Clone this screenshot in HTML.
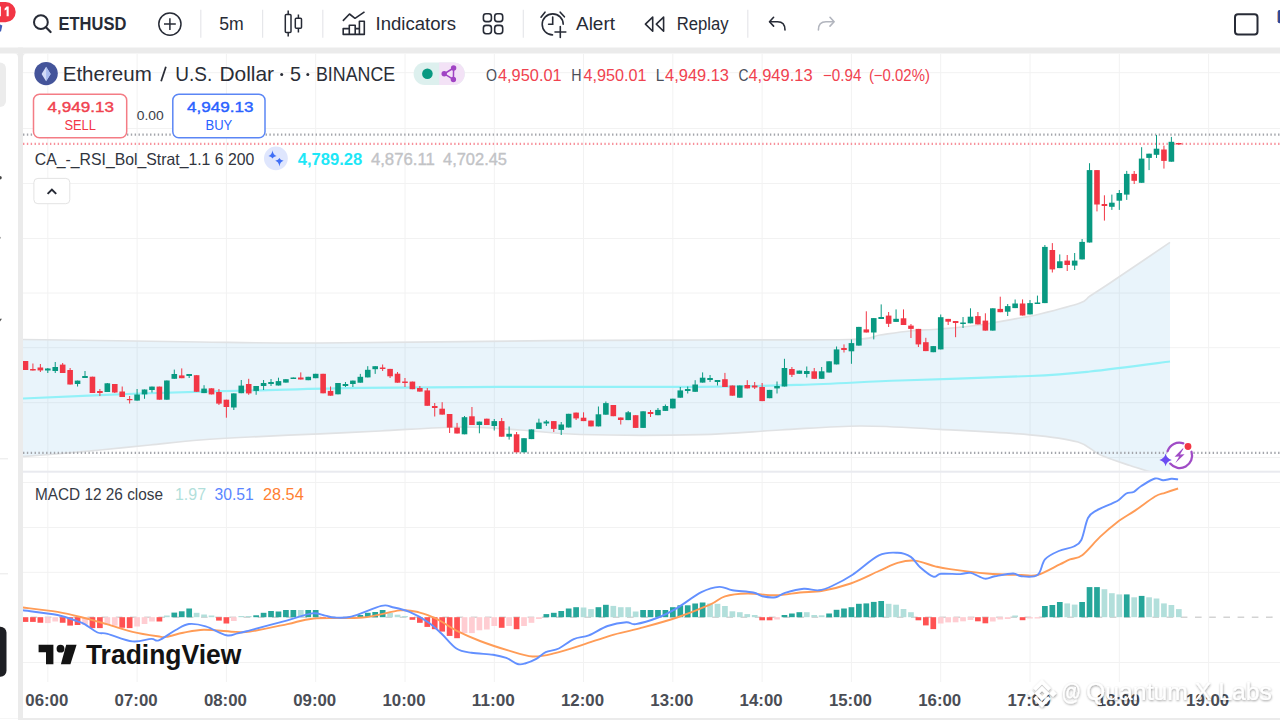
<!DOCTYPE html>
<html><head><meta charset="utf-8"><style>
html,body{margin:0;padding:0;width:1280px;height:720px;overflow:hidden;background:#fff}
text{font-family:"Liberation Sans", sans-serif}
</style></head><body>
<svg width="1280" height="720" viewBox="0 0 1280 720" style="display:block"><rect x="0" y="0" width="1280" height="720" fill="#ffffff"/><rect x="0" y="47.5" width="1280" height="6" fill="#ebebeb"/><rect x="18" y="47.5" width="5" height="672.5" fill="#ebebeb"/><rect x="18" y="718" width="1262" height="2" fill="#ebebeb"/><rect x="0" y="718" width="18" height="1" fill="#f6f6f6"/><path d="M0,53.5 H14 Q18,53.5 18,57.5 V53.5 Z" fill="#ebebeb"/><path d="M23,57.5 Q23,53.5 27,53.5 H23 Z" fill="#ebebeb"/><line x1="47.8" y1="54" x2="47.8" y2="682" stroke="#f2f2f2" stroke-width="1"/><line x1="137.1" y1="54" x2="137.1" y2="682" stroke="#f2f2f2" stroke-width="1"/><line x1="226.4" y1="54" x2="226.4" y2="682" stroke="#f2f2f2" stroke-width="1"/><line x1="315.7" y1="54" x2="315.7" y2="682" stroke="#f2f2f2" stroke-width="1"/><line x1="405.0" y1="54" x2="405.0" y2="682" stroke="#f2f2f2" stroke-width="1"/><line x1="494.3" y1="54" x2="494.3" y2="682" stroke="#f2f2f2" stroke-width="1"/><line x1="583.5" y1="54" x2="583.5" y2="682" stroke="#f2f2f2" stroke-width="1"/><line x1="672.8" y1="54" x2="672.8" y2="682" stroke="#f2f2f2" stroke-width="1"/><line x1="762.1" y1="54" x2="762.1" y2="682" stroke="#f2f2f2" stroke-width="1"/><line x1="851.4" y1="54" x2="851.4" y2="682" stroke="#f2f2f2" stroke-width="1"/><line x1="940.7" y1="54" x2="940.7" y2="682" stroke="#f2f2f2" stroke-width="1"/><line x1="1030.0" y1="54" x2="1030.0" y2="682" stroke="#f2f2f2" stroke-width="1"/><line x1="1119.3" y1="54" x2="1119.3" y2="682" stroke="#f2f2f2" stroke-width="1"/><line x1="1208.6" y1="54" x2="1208.6" y2="682" stroke="#f2f2f2" stroke-width="1"/><line x1="23" y1="72.7" x2="1280" y2="72.7" stroke="#f2f2f2" stroke-width="1"/><line x1="23" y1="128.5" x2="1280" y2="128.5" stroke="#f2f2f2" stroke-width="1"/><line x1="23" y1="183.5" x2="1280" y2="183.5" stroke="#f2f2f2" stroke-width="1"/><line x1="23" y1="238.5" x2="1280" y2="238.5" stroke="#f2f2f2" stroke-width="1"/><line x1="23" y1="293" x2="1280" y2="293" stroke="#f2f2f2" stroke-width="1"/><line x1="23" y1="347.7" x2="1280" y2="347.7" stroke="#f2f2f2" stroke-width="1"/><line x1="23" y1="402.7" x2="1280" y2="402.7" stroke="#f2f2f2" stroke-width="1"/><line x1="23" y1="457.5" x2="1280" y2="457.5" stroke="#f2f2f2" stroke-width="1"/><line x1="23" y1="482.5" x2="1280" y2="482.5" stroke="#f2f2f2" stroke-width="1"/><line x1="23" y1="527.5" x2="1280" y2="527.5" stroke="#f2f2f2" stroke-width="1"/><line x1="23" y1="572.3" x2="1280" y2="572.3" stroke="#f2f2f2" stroke-width="1"/><line x1="23" y1="662.5" x2="1280" y2="662.5" stroke="#f2f2f2" stroke-width="1"/><defs><clipPath id="pane"><rect x="23" y="54" width="1257" height="417"/></clipPath><clipPath id="macd"><rect x="23" y="473" width="1257" height="209"/></clipPath></defs><g clip-path="url(#pane)"><path d="M23.0,339.5 C35.8,339.7 70.5,340.1 100.0,340.5 C129.5,340.9 163.3,341.6 200.0,342.0 C236.7,342.4 261.7,343.2 320.0,343.0 C378.3,342.8 486.7,341.1 550.0,340.6 C613.3,340.1 650.0,340.2 700.0,340.0 C750.0,339.8 820.0,340.3 850.0,339.5 C880.0,338.7 870.0,336.4 880.0,335.0 C890.0,333.6 900.0,332.0 910.0,331.0 C920.0,330.0 928.3,330.0 940.0,329.0 C951.7,328.0 966.7,326.8 980.0,325.0 C993.3,323.2 1010.0,319.8 1020.0,318.0 C1030.0,316.2 1030.0,316.5 1040.0,314.0 C1050.0,311.5 1071.7,306.0 1080.0,303.0 C1088.3,300.0 1085.0,299.3 1090.0,296.0 C1095.0,292.7 1096.7,291.9 1110.0,283.0 C1123.3,274.1 1160.0,249.2 1170.0,242.4 L1170.0,478.0 C1163.3,475.9 1141.7,469.4 1130.0,465.5 C1118.3,461.6 1108.7,458.6 1100.0,454.7 C1091.3,450.8 1089.7,445.3 1078.0,442.0 C1066.3,438.7 1053.0,436.9 1030.0,434.8 C1007.0,432.7 968.3,430.9 940.0,429.4 C911.7,427.9 886.7,425.9 860.0,426.0 C833.3,426.1 806.7,428.6 780.0,430.0 C753.3,431.4 733.3,433.9 700.0,434.6 C666.7,435.4 610.0,435.3 580.0,434.5 C550.0,433.7 540.0,431.2 520.0,430.0 C500.0,428.8 483.3,426.8 460.0,427.0 C436.7,427.2 403.3,429.9 380.0,431.0 C356.7,432.1 341.7,432.8 320.0,433.8 C298.3,434.8 270.0,436.0 250.0,437.0 C230.0,438.0 216.7,438.7 200.0,440.0 C183.3,441.3 166.7,443.3 150.0,445.0 C133.3,446.7 116.7,448.4 100.0,450.0 C83.3,451.6 62.8,453.4 50.0,454.5 C37.2,455.6 27.5,456.0 23.0,456.3 Z" fill="rgb(35,145,215)" fill-opacity="0.1"/><path d="M23.0,339.5 C35.8,339.7 70.5,340.1 100.0,340.5 C129.5,340.9 163.3,341.6 200.0,342.0 C236.7,342.4 261.7,343.2 320.0,343.0 C378.3,342.8 486.7,341.1 550.0,340.6 C613.3,340.1 650.0,340.2 700.0,340.0 C750.0,339.8 820.0,340.3 850.0,339.5 C880.0,338.7 870.0,336.4 880.0,335.0 C890.0,333.6 900.0,332.0 910.0,331.0 C920.0,330.0 928.3,330.0 940.0,329.0 C951.7,328.0 966.7,326.8 980.0,325.0 C993.3,323.2 1010.0,319.8 1020.0,318.0 C1030.0,316.2 1030.0,316.5 1040.0,314.0 C1050.0,311.5 1071.7,306.0 1080.0,303.0 C1088.3,300.0 1085.0,299.3 1090.0,296.0 C1095.0,292.7 1096.7,291.9 1110.0,283.0 C1123.3,274.1 1160.0,249.2 1170.0,242.4" fill="none" stroke="#e0e2e4" stroke-width="1.7"/><path d="M23.0,456.3 C27.5,456.0 37.2,455.6 50.0,454.5 C62.8,453.4 83.3,451.6 100.0,450.0 C116.7,448.4 133.3,446.7 150.0,445.0 C166.7,443.3 183.3,441.3 200.0,440.0 C216.7,438.7 230.0,438.0 250.0,437.0 C270.0,436.0 298.3,434.8 320.0,433.8 C341.7,432.8 356.7,432.1 380.0,431.0 C403.3,429.9 436.7,427.2 460.0,427.0 C483.3,426.8 500.0,428.8 520.0,430.0 C540.0,431.2 550.0,433.7 580.0,434.5 C610.0,435.3 666.7,435.4 700.0,434.6 C733.3,433.9 753.3,431.4 780.0,430.0 C806.7,428.6 833.3,426.1 860.0,426.0 C886.7,425.9 911.7,427.9 940.0,429.4 C968.3,430.9 1007.0,432.7 1030.0,434.8 C1053.0,436.9 1066.3,438.7 1078.0,442.0 C1089.7,445.3 1091.3,450.8 1100.0,454.7 C1108.7,458.6 1118.3,461.6 1130.0,465.5 C1141.7,469.4 1163.3,475.9 1170.0,478.0" fill="none" stroke="#e0e2e4" stroke-width="1.7"/><path d="M23.0,398.5 C42.5,397.7 102.2,394.8 140.0,393.5 C177.8,392.2 213.3,391.4 250.0,390.5 C286.7,389.6 318.3,388.4 360.0,387.8 C401.7,387.2 443.3,387.0 500.0,386.8 C556.7,386.6 650.0,387.1 700.0,386.8 C750.0,386.5 766.7,385.9 800.0,384.8 C833.3,383.8 861.7,382.0 900.0,380.5 C938.3,379.0 998.3,377.5 1030.0,376.0 C1061.7,374.5 1066.7,373.9 1090.0,371.5 C1113.3,369.1 1156.7,363.2 1170.0,361.5" fill="none" stroke="#92f1f8" stroke-width="2.2"/></g><line x1="23" y1="134.7" x2="1280" y2="134.7" stroke="#a3a5ab" stroke-width="2.2" stroke-dasharray="1.4,2.45"/><line x1="23" y1="143.8" x2="1280" y2="143.8" stroke="#f7909a" stroke-width="2.2" stroke-dasharray="1.4,2.45"/><line x1="23" y1="452.8" x2="1280" y2="452.8" stroke="#a3a5ab" stroke-width="2.2" stroke-dasharray="1.4,2.45"/><g clip-path="url(#pane)"><line x1="25.48" y1="361.0" x2="25.48" y2="370.0" stroke="#f23645" stroke-width="1"/><rect x="22.68" y="361.0" width="5.6" height="9.00" fill="#f23645"/><line x1="32.92" y1="363.5" x2="32.92" y2="370.5" stroke="#f23645" stroke-width="1"/><rect x="30.12" y="369.0" width="5.6" height="1.50" fill="#f23645"/><line x1="40.36" y1="364.0" x2="40.36" y2="372.0" stroke="#f23645" stroke-width="1"/><rect x="37.56" y="367.5" width="5.6" height="2.90" fill="#f23645"/><line x1="47.80" y1="368.0" x2="47.80" y2="373.0" stroke="#089981" stroke-width="1"/><rect x="45.00" y="368.5" width="5.6" height="2.00" fill="#089981"/><line x1="55.24" y1="362.0" x2="55.24" y2="373.0" stroke="#089981" stroke-width="1"/><rect x="52.44" y="367.0" width="5.6" height="4.00" fill="#089981"/><line x1="62.68" y1="363.0" x2="62.68" y2="373.0" stroke="#f23645" stroke-width="1"/><rect x="59.88" y="364.6" width="5.6" height="8.40" fill="#f23645"/><line x1="70.12" y1="368.0" x2="70.12" y2="384.5" stroke="#f23645" stroke-width="1"/><rect x="67.32" y="370.0" width="5.6" height="14.50" fill="#f23645"/><line x1="77.56" y1="380.6" x2="77.56" y2="386.5" stroke="#089981" stroke-width="1"/><rect x="74.76" y="380.6" width="5.6" height="3.40" fill="#089981"/><line x1="85.00" y1="371.0" x2="85.00" y2="378.0" stroke="#089981" stroke-width="1"/><rect x="82.20" y="376.0" width="5.6" height="2.00" fill="#089981"/><line x1="92.45" y1="376.7" x2="92.45" y2="393.0" stroke="#f23645" stroke-width="1"/><rect x="89.65" y="376.7" width="5.6" height="16.30" fill="#f23645"/><line x1="99.89" y1="389.0" x2="99.89" y2="396.0" stroke="#f23645" stroke-width="1"/><rect x="97.09" y="391.0" width="5.6" height="2.00" fill="#f23645"/><line x1="107.33" y1="383.0" x2="107.33" y2="392.0" stroke="#089981" stroke-width="1"/><rect x="104.53" y="383.3" width="5.6" height="8.70" fill="#089981"/><line x1="114.77" y1="384.0" x2="114.77" y2="393.0" stroke="#f23645" stroke-width="1"/><rect x="111.97" y="384.0" width="5.6" height="8.50" fill="#f23645"/><line x1="122.21" y1="386.5" x2="122.21" y2="397.0" stroke="#f23645" stroke-width="1"/><rect x="119.41" y="391.5" width="5.6" height="5.50" fill="#f23645"/><line x1="129.65" y1="396.0" x2="129.65" y2="403.5" stroke="#f23645" stroke-width="1"/><rect x="126.85" y="399.0" width="5.6" height="1.20" fill="#f23645"/><line x1="137.09" y1="389.0" x2="137.09" y2="400.6" stroke="#089981" stroke-width="1"/><rect x="134.29" y="394.5" width="5.6" height="6.10" fill="#089981"/><line x1="144.53" y1="389.5" x2="144.53" y2="398.8" stroke="#089981" stroke-width="1"/><rect x="141.73" y="389.5" width="5.6" height="4.90" fill="#089981"/><line x1="151.97" y1="386.6" x2="151.97" y2="392.5" stroke="#089981" stroke-width="1"/><rect x="149.17" y="386.6" width="5.6" height="3.40" fill="#089981"/><line x1="159.41" y1="386.6" x2="159.41" y2="399.7" stroke="#f23645" stroke-width="1"/><rect x="156.61" y="386.6" width="5.6" height="13.10" fill="#f23645"/><line x1="166.86" y1="380.5" x2="166.86" y2="399.7" stroke="#089981" stroke-width="1"/><rect x="164.06" y="380.5" width="5.6" height="19.20" fill="#089981"/><line x1="174.30" y1="369.6" x2="174.30" y2="378.8" stroke="#089981" stroke-width="1"/><rect x="171.50" y="374.0" width="5.6" height="4.80" fill="#089981"/><line x1="181.74" y1="368.4" x2="181.74" y2="378.2" stroke="#f23645" stroke-width="1"/><rect x="178.94" y="375.4" width="5.6" height="2.80" fill="#f23645"/><line x1="189.18" y1="374.0" x2="189.18" y2="378.0" stroke="#089981" stroke-width="1"/><rect x="186.38" y="374.0" width="5.6" height="2.00" fill="#089981"/><line x1="196.62" y1="375.2" x2="196.62" y2="391.8" stroke="#f23645" stroke-width="1"/><rect x="193.82" y="375.2" width="5.6" height="16.60" fill="#f23645"/><line x1="204.06" y1="385.2" x2="204.06" y2="393.1" stroke="#089981" stroke-width="1"/><rect x="201.26" y="388.6" width="5.6" height="4.50" fill="#089981"/><line x1="211.50" y1="388.3" x2="211.50" y2="394.4" stroke="#f23645" stroke-width="1"/><rect x="208.70" y="388.3" width="5.6" height="6.10" fill="#f23645"/><line x1="218.94" y1="389.0" x2="218.94" y2="405.0" stroke="#f23645" stroke-width="1"/><rect x="216.14" y="392.0" width="5.6" height="11.60" fill="#f23645"/><line x1="226.38" y1="399.7" x2="226.38" y2="417.7" stroke="#f23645" stroke-width="1"/><rect x="223.58" y="399.7" width="5.6" height="7.30" fill="#f23645"/><line x1="233.82" y1="393.4" x2="233.82" y2="410.0" stroke="#089981" stroke-width="1"/><rect x="231.02" y="393.4" width="5.6" height="14.10" fill="#089981"/><line x1="241.27" y1="380.0" x2="241.27" y2="393.2" stroke="#089981" stroke-width="1"/><rect x="238.47" y="385.6" width="5.6" height="7.60" fill="#089981"/><line x1="248.71" y1="378.8" x2="248.71" y2="394.8" stroke="#f23645" stroke-width="1"/><rect x="245.91" y="384.0" width="5.6" height="9.40" fill="#f23645"/><line x1="256.15" y1="386.0" x2="256.15" y2="394.8" stroke="#089981" stroke-width="1"/><rect x="253.35" y="386.0" width="5.6" height="4.90" fill="#089981"/><line x1="263.59" y1="380.0" x2="263.59" y2="390.0" stroke="#089981" stroke-width="1"/><rect x="260.79" y="383.0" width="5.6" height="3.00" fill="#089981"/><line x1="271.03" y1="379.0" x2="271.03" y2="386.0" stroke="#089981" stroke-width="1"/><rect x="268.23" y="382.0" width="5.6" height="2.00" fill="#089981"/><line x1="278.47" y1="377.7" x2="278.47" y2="385.5" stroke="#089981" stroke-width="1"/><rect x="275.67" y="381.1" width="5.6" height="4.40" fill="#089981"/><line x1="285.91" y1="379.2" x2="285.91" y2="382.6" stroke="#089981" stroke-width="1"/><rect x="283.11" y="379.2" width="5.6" height="3.40" fill="#089981"/><line x1="293.35" y1="377.5" x2="293.35" y2="379.0" stroke="#089981" stroke-width="1"/><rect x="290.55" y="377.5" width="5.6" height="1.50" fill="#089981"/><line x1="300.79" y1="372.4" x2="300.79" y2="379.5" stroke="#f23645" stroke-width="1"/><rect x="297.99" y="377.5" width="5.6" height="2.00" fill="#f23645"/><line x1="308.24" y1="376.8" x2="308.24" y2="380.2" stroke="#089981" stroke-width="1"/><rect x="305.44" y="376.8" width="5.6" height="3.40" fill="#089981"/><line x1="315.68" y1="373.8" x2="315.68" y2="378.2" stroke="#089981" stroke-width="1"/><rect x="312.88" y="373.8" width="5.6" height="4.40" fill="#089981"/><line x1="323.12" y1="373.8" x2="323.12" y2="393.3" stroke="#f23645" stroke-width="1"/><rect x="320.32" y="373.8" width="5.6" height="19.50" fill="#f23645"/><line x1="330.56" y1="386.5" x2="330.56" y2="395.7" stroke="#f23645" stroke-width="1"/><rect x="327.76" y="390.9" width="5.6" height="4.80" fill="#f23645"/><line x1="338.00" y1="383.0" x2="338.00" y2="394.3" stroke="#089981" stroke-width="1"/><rect x="335.20" y="383.0" width="5.6" height="11.30" fill="#089981"/><line x1="345.44" y1="382.0" x2="345.44" y2="387.0" stroke="#089981" stroke-width="1"/><rect x="342.64" y="384.0" width="5.6" height="2.00" fill="#089981"/><line x1="352.88" y1="380.6" x2="352.88" y2="387.0" stroke="#089981" stroke-width="1"/><rect x="350.08" y="380.6" width="5.6" height="3.40" fill="#089981"/><line x1="360.32" y1="373.9" x2="360.32" y2="382.7" stroke="#089981" stroke-width="1"/><rect x="357.52" y="376.8" width="5.6" height="5.90" fill="#089981"/><line x1="367.76" y1="366.2" x2="367.76" y2="377.4" stroke="#089981" stroke-width="1"/><rect x="364.96" y="369.8" width="5.6" height="7.60" fill="#089981"/><line x1="375.20" y1="366.2" x2="375.20" y2="373.9" stroke="#089981" stroke-width="1"/><rect x="372.40" y="366.2" width="5.6" height="3.00" fill="#089981"/><line x1="382.64" y1="364.5" x2="382.64" y2="371.0" stroke="#f23645" stroke-width="1"/><rect x="379.84" y="367.5" width="5.6" height="1.50" fill="#f23645"/><line x1="390.09" y1="368.9" x2="390.09" y2="378.0" stroke="#f23645" stroke-width="1"/><rect x="387.29" y="368.9" width="5.6" height="7.40" fill="#f23645"/><line x1="397.53" y1="372.0" x2="397.53" y2="382.7" stroke="#f23645" stroke-width="1"/><rect x="394.73" y="373.7" width="5.6" height="9.00" fill="#f23645"/><line x1="404.97" y1="378.0" x2="404.97" y2="387.0" stroke="#f23645" stroke-width="1"/><rect x="402.17" y="381.5" width="5.6" height="1.50" fill="#f23645"/><line x1="412.41" y1="381.6" x2="412.41" y2="389.2" stroke="#f23645" stroke-width="1"/><rect x="409.61" y="381.6" width="5.6" height="7.60" fill="#f23645"/><line x1="419.85" y1="386.0" x2="419.85" y2="391.6" stroke="#f23645" stroke-width="1"/><rect x="417.05" y="388.0" width="5.6" height="3.60" fill="#f23645"/><line x1="427.29" y1="388.0" x2="427.29" y2="405.8" stroke="#f23645" stroke-width="1"/><rect x="424.49" y="390.4" width="5.6" height="15.40" fill="#f23645"/><line x1="434.73" y1="403.0" x2="434.73" y2="416.5" stroke="#f23645" stroke-width="1"/><rect x="431.93" y="406.0" width="5.6" height="2.00" fill="#f23645"/><line x1="442.17" y1="402.2" x2="442.17" y2="414.6" stroke="#f23645" stroke-width="1"/><rect x="439.37" y="408.7" width="5.6" height="5.90" fill="#f23645"/><line x1="449.61" y1="414.0" x2="449.61" y2="433.0" stroke="#f23645" stroke-width="1"/><rect x="446.81" y="414.0" width="5.6" height="13.60" fill="#f23645"/><line x1="457.06" y1="422.9" x2="457.06" y2="433.5" stroke="#f23645" stroke-width="1"/><rect x="454.25" y="427.6" width="5.6" height="5.90" fill="#f23645"/><line x1="464.50" y1="416.0" x2="464.50" y2="434.3" stroke="#089981" stroke-width="1"/><rect x="461.70" y="417.2" width="5.6" height="17.10" fill="#089981"/><line x1="471.94" y1="407.0" x2="471.94" y2="425.0" stroke="#f23645" stroke-width="1"/><rect x="469.14" y="416.3" width="5.6" height="8.70" fill="#f23645"/><line x1="479.38" y1="421.6" x2="479.38" y2="433.3" stroke="#089981" stroke-width="1"/><rect x="476.58" y="421.6" width="5.6" height="3.40" fill="#089981"/><line x1="486.82" y1="418.7" x2="486.82" y2="425.0" stroke="#f23645" stroke-width="1"/><rect x="484.02" y="418.7" width="5.6" height="6.30" fill="#f23645"/><line x1="494.26" y1="419.0" x2="494.26" y2="430.5" stroke="#089981" stroke-width="1"/><rect x="491.46" y="421.1" width="5.6" height="4.90" fill="#089981"/><line x1="501.70" y1="418.0" x2="501.70" y2="436.7" stroke="#f23645" stroke-width="1"/><rect x="498.90" y="421.1" width="5.6" height="15.60" fill="#f23645"/><line x1="509.14" y1="426.5" x2="509.14" y2="439.6" stroke="#089981" stroke-width="1"/><rect x="506.34" y="433.8" width="5.6" height="2.90" fill="#089981"/><line x1="516.58" y1="432.0" x2="516.58" y2="452.3" stroke="#f23645" stroke-width="1"/><rect x="513.78" y="434.3" width="5.6" height="18.00" fill="#f23645"/><line x1="524.02" y1="438.2" x2="524.02" y2="452.3" stroke="#089981" stroke-width="1"/><rect x="521.22" y="438.2" width="5.6" height="14.10" fill="#089981"/><line x1="531.46" y1="429.4" x2="531.46" y2="439.1" stroke="#089981" stroke-width="1"/><rect x="528.66" y="429.4" width="5.6" height="9.70" fill="#089981"/><line x1="538.91" y1="418.7" x2="538.91" y2="428.9" stroke="#089981" stroke-width="1"/><rect x="536.11" y="422.6" width="5.6" height="6.30" fill="#089981"/><line x1="546.35" y1="420.0" x2="546.35" y2="426.0" stroke="#089981" stroke-width="1"/><rect x="543.55" y="421.5" width="5.6" height="2.00" fill="#089981"/><line x1="553.79" y1="421.1" x2="553.79" y2="432.0" stroke="#f23645" stroke-width="1"/><rect x="550.99" y="421.1" width="5.6" height="7.80" fill="#f23645"/><line x1="561.23" y1="422.0" x2="561.23" y2="435.0" stroke="#089981" stroke-width="1"/><rect x="558.43" y="424.5" width="5.6" height="5.40" fill="#089981"/><line x1="568.67" y1="413.8" x2="568.67" y2="427.5" stroke="#089981" stroke-width="1"/><rect x="565.87" y="413.8" width="5.6" height="13.70" fill="#089981"/><line x1="576.11" y1="412.6" x2="576.11" y2="420.0" stroke="#f23645" stroke-width="1"/><rect x="573.31" y="412.6" width="5.6" height="5.80" fill="#f23645"/><line x1="583.55" y1="412.3" x2="583.55" y2="421.1" stroke="#f23645" stroke-width="1"/><rect x="580.75" y="417.7" width="5.6" height="3.40" fill="#f23645"/><line x1="590.99" y1="420.6" x2="590.99" y2="426.4" stroke="#f23645" stroke-width="1"/><rect x="588.19" y="420.6" width="5.6" height="5.80" fill="#f23645"/><line x1="598.43" y1="406.5" x2="598.43" y2="426.4" stroke="#089981" stroke-width="1"/><rect x="595.63" y="414.3" width="5.6" height="12.10" fill="#089981"/><line x1="605.87" y1="401.5" x2="605.87" y2="414.7" stroke="#089981" stroke-width="1"/><rect x="603.07" y="403.1" width="5.6" height="11.60" fill="#089981"/><line x1="613.32" y1="405.0" x2="613.32" y2="416.2" stroke="#f23645" stroke-width="1"/><rect x="610.52" y="405.0" width="5.6" height="11.20" fill="#f23645"/><line x1="620.76" y1="417.5" x2="620.76" y2="424.5" stroke="#f23645" stroke-width="1"/><rect x="617.96" y="417.5" width="5.6" height="2.50" fill="#f23645"/><line x1="628.20" y1="411.0" x2="628.20" y2="420.1" stroke="#089981" stroke-width="1"/><rect x="625.40" y="412.3" width="5.6" height="7.80" fill="#089981"/><line x1="635.64" y1="415.2" x2="635.64" y2="427.9" stroke="#f23645" stroke-width="1"/><rect x="632.84" y="415.2" width="5.6" height="12.70" fill="#f23645"/><line x1="643.08" y1="411.3" x2="643.08" y2="427.9" stroke="#089981" stroke-width="1"/><rect x="640.28" y="411.3" width="5.6" height="16.60" fill="#089981"/><line x1="650.52" y1="410.0" x2="650.52" y2="417.0" stroke="#f23645" stroke-width="1"/><rect x="647.72" y="412.0" width="5.6" height="2.00" fill="#f23645"/><line x1="657.96" y1="408.0" x2="657.96" y2="415.2" stroke="#089981" stroke-width="1"/><rect x="655.16" y="409.9" width="5.6" height="5.30" fill="#089981"/><line x1="665.40" y1="404.5" x2="665.40" y2="410.9" stroke="#089981" stroke-width="1"/><rect x="662.60" y="406.0" width="5.6" height="4.90" fill="#089981"/><line x1="672.84" y1="398.7" x2="672.84" y2="408.4" stroke="#089981" stroke-width="1"/><rect x="670.04" y="398.7" width="5.6" height="9.70" fill="#089981"/><line x1="680.28" y1="387.0" x2="680.28" y2="397.7" stroke="#089981" stroke-width="1"/><rect x="677.49" y="390.4" width="5.6" height="7.30" fill="#089981"/><line x1="687.73" y1="386.5" x2="687.73" y2="393.5" stroke="#089981" stroke-width="1"/><rect x="684.93" y="389.0" width="5.6" height="2.00" fill="#089981"/><line x1="695.17" y1="380.2" x2="695.17" y2="391.8" stroke="#089981" stroke-width="1"/><rect x="692.37" y="384.5" width="5.6" height="7.30" fill="#089981"/><line x1="702.61" y1="372.4" x2="702.61" y2="382.6" stroke="#089981" stroke-width="1"/><rect x="699.81" y="377.7" width="5.6" height="4.90" fill="#089981"/><line x1="710.05" y1="375.0" x2="710.05" y2="382.0" stroke="#089981" stroke-width="1"/><rect x="707.25" y="378.0" width="5.6" height="2.00" fill="#089981"/><line x1="717.49" y1="380.0" x2="717.49" y2="385.5" stroke="#089981" stroke-width="1"/><rect x="714.69" y="380.0" width="5.6" height="2.00" fill="#089981"/><line x1="724.93" y1="372.9" x2="724.93" y2="387.0" stroke="#f23645" stroke-width="1"/><rect x="722.13" y="379.2" width="5.6" height="7.80" fill="#f23645"/><line x1="732.37" y1="385.5" x2="732.37" y2="395.7" stroke="#f23645" stroke-width="1"/><rect x="729.57" y="385.5" width="5.6" height="10.20" fill="#f23645"/><line x1="739.81" y1="385.5" x2="739.81" y2="397.7" stroke="#089981" stroke-width="1"/><rect x="737.01" y="385.5" width="5.6" height="12.20" fill="#089981"/><line x1="747.25" y1="380.2" x2="747.25" y2="388.4" stroke="#f23645" stroke-width="1"/><rect x="744.45" y="385.0" width="5.6" height="3.40" fill="#f23645"/><line x1="754.69" y1="382.0" x2="754.69" y2="389.0" stroke="#f23645" stroke-width="1"/><rect x="751.89" y="385.5" width="5.6" height="2.00" fill="#f23645"/><line x1="762.14" y1="383.0" x2="762.14" y2="401.1" stroke="#f23645" stroke-width="1"/><rect x="759.34" y="387.0" width="5.6" height="14.10" fill="#f23645"/><line x1="769.58" y1="389.9" x2="769.58" y2="398.2" stroke="#089981" stroke-width="1"/><rect x="766.78" y="389.9" width="5.6" height="8.30" fill="#089981"/><line x1="777.02" y1="381.5" x2="777.02" y2="393.5" stroke="#089981" stroke-width="1"/><rect x="774.22" y="386.0" width="5.6" height="2.40" fill="#089981"/><line x1="784.46" y1="358.8" x2="784.46" y2="386.5" stroke="#089981" stroke-width="1"/><rect x="781.66" y="368.0" width="5.6" height="18.50" fill="#089981"/><line x1="791.90" y1="367.0" x2="791.90" y2="377.0" stroke="#f23645" stroke-width="1"/><rect x="789.10" y="369.0" width="5.6" height="5.80" fill="#f23645"/><line x1="799.34" y1="370.6" x2="799.34" y2="373.8" stroke="#089981" stroke-width="1"/><rect x="796.54" y="370.6" width="5.6" height="3.20" fill="#089981"/><line x1="806.78" y1="366.5" x2="806.78" y2="377.5" stroke="#089981" stroke-width="1"/><rect x="803.98" y="371.0" width="5.6" height="3.00" fill="#089981"/><line x1="814.22" y1="368.0" x2="814.22" y2="378.8" stroke="#f23645" stroke-width="1"/><rect x="811.42" y="371.3" width="5.6" height="7.50" fill="#f23645"/><line x1="821.66" y1="367.0" x2="821.66" y2="378.8" stroke="#089981" stroke-width="1"/><rect x="818.86" y="371.3" width="5.6" height="7.50" fill="#089981"/><line x1="829.10" y1="361.3" x2="829.10" y2="372.5" stroke="#089981" stroke-width="1"/><rect x="826.30" y="361.3" width="5.6" height="11.20" fill="#089981"/><line x1="836.55" y1="346.5" x2="836.55" y2="364.4" stroke="#089981" stroke-width="1"/><rect x="833.75" y="349.4" width="5.6" height="15.00" fill="#089981"/><line x1="843.99" y1="344.4" x2="843.99" y2="352.5" stroke="#f23645" stroke-width="1"/><rect x="841.19" y="348.0" width="5.6" height="2.00" fill="#f23645"/><line x1="851.43" y1="339.4" x2="851.43" y2="363.8" stroke="#089981" stroke-width="1"/><rect x="848.63" y="343.1" width="5.6" height="8.20" fill="#089981"/><line x1="858.87" y1="326.9" x2="858.87" y2="345.6" stroke="#089981" stroke-width="1"/><rect x="856.07" y="326.9" width="5.6" height="18.70" fill="#089981"/><line x1="866.31" y1="311.3" x2="866.31" y2="332.5" stroke="#f23645" stroke-width="1"/><rect x="863.51" y="329.4" width="5.6" height="3.10" fill="#f23645"/><line x1="873.75" y1="318.1" x2="873.75" y2="339.4" stroke="#089981" stroke-width="1"/><rect x="870.95" y="318.1" width="5.6" height="14.40" fill="#089981"/><line x1="881.19" y1="304.4" x2="881.19" y2="319.0" stroke="#089981" stroke-width="1"/><rect x="878.39" y="317.0" width="5.6" height="2.00" fill="#089981"/><line x1="888.63" y1="312.0" x2="888.63" y2="327.0" stroke="#f23645" stroke-width="1"/><rect x="885.83" y="315.6" width="5.6" height="8.20" fill="#f23645"/><line x1="896.07" y1="309.4" x2="896.07" y2="321.9" stroke="#089981" stroke-width="1"/><rect x="893.27" y="318.8" width="5.6" height="3.10" fill="#089981"/><line x1="903.51" y1="309.4" x2="903.51" y2="325.0" stroke="#f23645" stroke-width="1"/><rect x="900.72" y="318.3" width="5.6" height="6.70" fill="#f23645"/><line x1="910.96" y1="324.0" x2="910.96" y2="338.0" stroke="#f23645" stroke-width="1"/><rect x="908.16" y="325.6" width="5.6" height="3.30" fill="#f23645"/><line x1="918.40" y1="328.9" x2="918.40" y2="347.0" stroke="#f23645" stroke-width="1"/><rect x="915.60" y="328.9" width="5.6" height="15.50" fill="#f23645"/><line x1="925.84" y1="337.8" x2="925.84" y2="351.1" stroke="#f23645" stroke-width="1"/><rect x="923.04" y="342.2" width="5.6" height="8.90" fill="#f23645"/><line x1="933.28" y1="346.1" x2="933.28" y2="352.2" stroke="#089981" stroke-width="1"/><rect x="930.48" y="346.1" width="5.6" height="6.10" fill="#089981"/><line x1="940.72" y1="314.5" x2="940.72" y2="349.4" stroke="#089981" stroke-width="1"/><rect x="937.92" y="317.2" width="5.6" height="32.20" fill="#089981"/><line x1="948.16" y1="318.9" x2="948.16" y2="325.0" stroke="#f23645" stroke-width="1"/><rect x="945.36" y="318.9" width="5.6" height="2.80" fill="#f23645"/><line x1="955.60" y1="321.0" x2="955.60" y2="337.2" stroke="#f23645" stroke-width="1"/><rect x="952.80" y="321.0" width="5.6" height="2.00" fill="#f23645"/><line x1="963.04" y1="317.0" x2="963.04" y2="328.0" stroke="#089981" stroke-width="1"/><rect x="960.24" y="322.5" width="5.6" height="1.50" fill="#089981"/><line x1="970.48" y1="308.3" x2="970.48" y2="323.3" stroke="#089981" stroke-width="1"/><rect x="967.68" y="316.7" width="5.6" height="6.60" fill="#089981"/><line x1="977.92" y1="312.0" x2="977.92" y2="324.4" stroke="#f23645" stroke-width="1"/><rect x="975.12" y="316.1" width="5.6" height="8.30" fill="#f23645"/><line x1="985.37" y1="313.3" x2="985.37" y2="330.6" stroke="#f23645" stroke-width="1"/><rect x="982.57" y="320.6" width="5.6" height="10.00" fill="#f23645"/><line x1="992.81" y1="308.3" x2="992.81" y2="330.6" stroke="#089981" stroke-width="1"/><rect x="990.01" y="308.3" width="5.6" height="22.30" fill="#089981"/><line x1="1000.25" y1="296.7" x2="1000.25" y2="312.2" stroke="#f23645" stroke-width="1"/><rect x="997.45" y="308.9" width="5.6" height="3.30" fill="#f23645"/><line x1="1007.69" y1="304.0" x2="1007.69" y2="316.0" stroke="#089981" stroke-width="1"/><rect x="1004.89" y="306.1" width="5.6" height="5.60" fill="#089981"/><line x1="1015.13" y1="299.5" x2="1015.13" y2="308.1" stroke="#089981" stroke-width="1"/><rect x="1012.33" y="303.5" width="5.6" height="4.60" fill="#089981"/><line x1="1022.57" y1="299.4" x2="1022.57" y2="315.5" stroke="#f23645" stroke-width="1"/><rect x="1019.77" y="303.5" width="5.6" height="12.00" fill="#f23645"/><line x1="1030.01" y1="300.0" x2="1030.01" y2="314.4" stroke="#089981" stroke-width="1"/><rect x="1027.21" y="303.1" width="5.6" height="11.30" fill="#089981"/><line x1="1037.45" y1="295.6" x2="1037.45" y2="304.0" stroke="#089981" stroke-width="1"/><rect x="1034.65" y="302.5" width="5.6" height="1.50" fill="#089981"/><line x1="1044.89" y1="245.0" x2="1044.89" y2="303.1" stroke="#089981" stroke-width="1"/><rect x="1042.09" y="246.9" width="5.6" height="56.20" fill="#089981"/><line x1="1052.34" y1="243.1" x2="1052.34" y2="272.5" stroke="#f23645" stroke-width="1"/><rect x="1049.54" y="250.0" width="5.6" height="19.40" fill="#f23645"/><line x1="1059.78" y1="254.4" x2="1059.78" y2="268.1" stroke="#089981" stroke-width="1"/><rect x="1056.98" y="261.3" width="5.6" height="6.80" fill="#089981"/><line x1="1067.22" y1="255.0" x2="1067.22" y2="271.0" stroke="#f23645" stroke-width="1"/><rect x="1064.42" y="260.6" width="5.6" height="4.40" fill="#f23645"/><line x1="1074.66" y1="253.0" x2="1074.66" y2="270.0" stroke="#089981" stroke-width="1"/><rect x="1071.86" y="260.6" width="5.6" height="5.00" fill="#089981"/><line x1="1082.10" y1="239.0" x2="1082.10" y2="259.4" stroke="#089981" stroke-width="1"/><rect x="1079.30" y="241.9" width="5.6" height="17.50" fill="#089981"/><line x1="1089.54" y1="163.2" x2="1089.54" y2="242.5" stroke="#089981" stroke-width="1"/><rect x="1086.74" y="170.1" width="5.6" height="72.40" fill="#089981"/><line x1="1096.98" y1="170.1" x2="1096.98" y2="211.4" stroke="#f23645" stroke-width="1"/><rect x="1094.18" y="170.1" width="5.6" height="34.40" fill="#f23645"/><line x1="1104.42" y1="195.3" x2="1104.42" y2="220.6" stroke="#f23645" stroke-width="1"/><rect x="1101.62" y="204.0" width="5.6" height="2.00" fill="#f23645"/><line x1="1111.86" y1="194.6" x2="1111.86" y2="209.9" stroke="#089981" stroke-width="1"/><rect x="1109.06" y="202.7" width="5.6" height="4.10" fill="#089981"/><line x1="1119.30" y1="190.0" x2="1119.30" y2="209.9" stroke="#089981" stroke-width="1"/><rect x="1116.50" y="193.0" width="5.6" height="7.70" fill="#089981"/><line x1="1126.74" y1="170.9" x2="1126.74" y2="199.9" stroke="#089981" stroke-width="1"/><rect x="1123.94" y="173.9" width="5.6" height="20.70" fill="#089981"/><line x1="1134.19" y1="171.0" x2="1134.19" y2="184.0" stroke="#f23645" stroke-width="1"/><rect x="1131.39" y="173.9" width="5.6" height="6.90" fill="#f23645"/><line x1="1141.63" y1="147.2" x2="1141.63" y2="182.8" stroke="#089981" stroke-width="1"/><rect x="1138.83" y="158.6" width="5.6" height="24.20" fill="#089981"/><line x1="1149.07" y1="153.7" x2="1149.07" y2="170.1" stroke="#089981" stroke-width="1"/><rect x="1146.27" y="153.7" width="5.6" height="4.20" fill="#089981"/><line x1="1156.51" y1="134.9" x2="1156.51" y2="158.0" stroke="#089981" stroke-width="1"/><rect x="1153.71" y="148.7" width="5.6" height="6.10" fill="#089981"/><line x1="1163.95" y1="145.6" x2="1163.95" y2="168.6" stroke="#f23645" stroke-width="1"/><rect x="1161.15" y="149.5" width="5.6" height="11.40" fill="#f23645"/><line x1="1171.39" y1="136.9" x2="1171.39" y2="161.7" stroke="#089981" stroke-width="1"/><rect x="1168.59" y="141.8" width="5.6" height="19.90" fill="#089981"/><line x1="1178.83" y1="143.0" x2="1178.83" y2="144.5" stroke="#f23645" stroke-width="1"/><rect x="1176.03" y="143.0" width="5.6" height="1.50" fill="#f23645"/></g><rect x="23" y="470.7" width="1257" height="2" fill="#e9eaef"/><g clip-path="url(#macd)"><line x1="23" y1="617.2" x2="1280" y2="617.2" stroke="#d3d3d3" stroke-width="1.6" stroke-dasharray="6.6,7.6" stroke-dashoffset="6.6"/><rect x="22.63" y="617.20" width="5.7" height="4.70" fill="#ff5252"/><rect x="30.07" y="617.20" width="5.7" height="4.70" fill="#ff5252"/><rect x="37.51" y="617.20" width="5.7" height="5.55" fill="#ff5252"/><rect x="44.95" y="617.20" width="5.7" height="5.90" fill="#ffcdd2"/><rect x="52.39" y="617.20" width="5.7" height="4.30" fill="#ffcdd2"/><rect x="59.83" y="617.20" width="5.7" height="5.55" fill="#ff5252"/><rect x="67.27" y="617.20" width="5.7" height="8.40" fill="#ff5252"/><rect x="74.71" y="617.20" width="5.7" height="7.80" fill="#ff5252"/><rect x="82.16" y="617.20" width="5.7" height="7.55" fill="#ffcdd2"/><rect x="89.60" y="617.20" width="5.7" height="10.90" fill="#ff5252"/><rect x="97.04" y="617.20" width="5.7" height="10.90" fill="#ff5252"/><rect x="104.48" y="617.20" width="5.7" height="7.80" fill="#ffcdd2"/><rect x="111.92" y="617.20" width="5.7" height="8.40" fill="#ffcdd2"/><rect x="119.36" y="617.20" width="5.7" height="10.55" fill="#ff5252"/><rect x="126.80" y="617.20" width="5.7" height="10.90" fill="#ff5252"/><rect x="134.24" y="617.20" width="5.7" height="9.30" fill="#ffcdd2"/><rect x="141.68" y="617.20" width="5.7" height="6.80" fill="#ffcdd2"/><rect x="149.12" y="617.20" width="5.7" height="4.30" fill="#ffcdd2"/><rect x="156.56" y="617.20" width="5.7" height="4.30" fill="#ff5252"/><rect x="164.01" y="615.50" width="5.7" height="1.70" fill="#b2dfdb"/><rect x="171.45" y="612.60" width="5.7" height="4.60" fill="#26a69a"/><rect x="178.89" y="611.30" width="5.7" height="5.90" fill="#26a69a"/><rect x="186.33" y="608.50" width="5.7" height="8.70" fill="#26a69a"/><rect x="193.77" y="612.80" width="5.7" height="4.40" fill="#b2dfdb"/><rect x="201.21" y="614.50" width="5.7" height="2.70" fill="#b2dfdb"/><rect x="208.65" y="615.50" width="5.7" height="1.70" fill="#b2dfdb"/><rect x="216.09" y="617.20" width="5.7" height="3.40" fill="#ff5252"/><rect x="223.53" y="617.20" width="5.7" height="6.30" fill="#ff5252"/><rect x="230.97" y="617.20" width="5.7" height="3.80" fill="#ffcdd2"/><rect x="238.42" y="616.00" width="5.7" height="1.20" fill="#b2dfdb"/><rect x="245.86" y="616.00" width="5.7" height="1.20" fill="#b2dfdb"/><rect x="253.30" y="615.30" width="5.7" height="1.90" fill="#26a69a"/><rect x="260.74" y="612.80" width="5.7" height="4.40" fill="#26a69a"/><rect x="268.18" y="611.00" width="5.7" height="6.20" fill="#26a69a"/><rect x="275.62" y="611.50" width="5.7" height="5.70" fill="#26a69a"/><rect x="283.06" y="610.00" width="5.7" height="7.20" fill="#26a69a"/><rect x="290.50" y="610.00" width="5.7" height="7.20" fill="#26a69a"/><rect x="297.94" y="610.00" width="5.7" height="7.20" fill="#b2dfdb"/><rect x="305.38" y="610.00" width="5.7" height="7.20" fill="#26a69a"/><rect x="312.83" y="610.00" width="5.7" height="7.20" fill="#26a69a"/><rect x="320.27" y="617.20" width="5.7" height="1.80" fill="#ff5252"/><rect x="327.71" y="617.20" width="5.7" height="1.00" fill="#ff5252"/><rect x="335.15" y="617.20" width="5.7" height="1.00" fill="#ffcdd2"/><rect x="342.59" y="617.20" width="5.7" height="1.00" fill="#ffcdd2"/><rect x="350.03" y="616.50" width="5.7" height="1.00" fill="#b2dfdb"/><rect x="357.47" y="615.00" width="5.7" height="2.20" fill="#26a69a"/><rect x="364.91" y="612.80" width="5.7" height="4.40" fill="#26a69a"/><rect x="372.35" y="612.00" width="5.7" height="5.20" fill="#26a69a"/><rect x="379.79" y="610.00" width="5.7" height="7.20" fill="#26a69a"/><rect x="387.24" y="612.80" width="5.7" height="4.40" fill="#b2dfdb"/><rect x="394.68" y="614.70" width="5.7" height="2.50" fill="#b2dfdb"/><rect x="402.12" y="616.00" width="5.7" height="1.20" fill="#b2dfdb"/><rect x="409.56" y="617.20" width="5.7" height="2.60" fill="#ff5252"/><rect x="417.00" y="617.20" width="5.7" height="5.60" fill="#ff5252"/><rect x="424.44" y="617.20" width="5.7" height="9.70" fill="#ff5252"/><rect x="431.88" y="617.20" width="5.7" height="12.00" fill="#ff5252"/><rect x="439.32" y="617.20" width="5.7" height="14.40" fill="#ff5252"/><rect x="446.76" y="617.20" width="5.7" height="18.70" fill="#ff5252"/><rect x="454.20" y="617.20" width="5.7" height="21.00" fill="#ff5252"/><rect x="461.65" y="617.20" width="5.7" height="15.90" fill="#ffcdd2"/><rect x="469.09" y="617.20" width="5.7" height="15.90" fill="#ffcdd2"/><rect x="476.53" y="617.20" width="5.7" height="13.10" fill="#ffcdd2"/><rect x="483.97" y="617.20" width="5.7" height="12.30" fill="#ffcdd2"/><rect x="491.41" y="617.20" width="5.7" height="8.80" fill="#ffcdd2"/><rect x="498.85" y="617.20" width="5.7" height="10.60" fill="#ff5252"/><rect x="506.29" y="617.20" width="5.7" height="8.80" fill="#ffcdd2"/><rect x="513.73" y="617.20" width="5.7" height="12.00" fill="#ff5252"/><rect x="521.17" y="617.20" width="5.7" height="8.80" fill="#ffcdd2"/><rect x="528.61" y="617.20" width="5.7" height="5.60" fill="#ffcdd2"/><rect x="536.06" y="617.20" width="5.7" height="1.80" fill="#ffcdd2"/><rect x="543.50" y="614.10" width="5.7" height="3.10" fill="#26a69a"/><rect x="550.94" y="612.80" width="5.7" height="4.40" fill="#26a69a"/><rect x="558.38" y="611.00" width="5.7" height="6.20" fill="#26a69a"/><rect x="565.82" y="608.50" width="5.7" height="8.70" fill="#26a69a"/><rect x="573.26" y="607.20" width="5.7" height="10.00" fill="#26a69a"/><rect x="580.70" y="607.50" width="5.7" height="9.70" fill="#b2dfdb"/><rect x="588.14" y="609.10" width="5.7" height="8.10" fill="#b2dfdb"/><rect x="595.58" y="607.20" width="5.7" height="10.00" fill="#26a69a"/><rect x="603.02" y="604.80" width="5.7" height="12.40" fill="#26a69a"/><rect x="610.47" y="605.90" width="5.7" height="11.30" fill="#b2dfdb"/><rect x="617.91" y="607.20" width="5.7" height="10.00" fill="#b2dfdb"/><rect x="625.35" y="607.20" width="5.7" height="10.00" fill="#b2dfdb"/><rect x="632.79" y="611.50" width="5.7" height="5.70" fill="#b2dfdb"/><rect x="640.23" y="610.00" width="5.7" height="7.20" fill="#26a69a"/><rect x="647.67" y="610.00" width="5.7" height="7.20" fill="#26a69a"/><rect x="655.11" y="610.00" width="5.7" height="7.20" fill="#26a69a"/><rect x="662.55" y="610.00" width="5.7" height="7.20" fill="#26a69a"/><rect x="669.99" y="607.20" width="5.7" height="10.00" fill="#26a69a"/><rect x="677.43" y="605.30" width="5.7" height="11.90" fill="#26a69a"/><rect x="684.88" y="605.30" width="5.7" height="11.90" fill="#26a69a"/><rect x="692.32" y="603.50" width="5.7" height="13.70" fill="#26a69a"/><rect x="699.76" y="602.50" width="5.7" height="14.70" fill="#26a69a"/><rect x="707.20" y="603.50" width="5.7" height="13.70" fill="#b2dfdb"/><rect x="714.64" y="603.80" width="5.7" height="13.40" fill="#b2dfdb"/><rect x="722.08" y="606.00" width="5.7" height="11.20" fill="#b2dfdb"/><rect x="729.52" y="611.30" width="5.7" height="5.90" fill="#b2dfdb"/><rect x="736.96" y="612.20" width="5.7" height="5.00" fill="#b2dfdb"/><rect x="744.40" y="614.10" width="5.7" height="3.10" fill="#b2dfdb"/><rect x="751.84" y="615.00" width="5.7" height="2.20" fill="#b2dfdb"/><rect x="759.29" y="617.20" width="5.7" height="3.10" fill="#ff5252"/><rect x="766.73" y="617.20" width="5.7" height="3.10" fill="#ff5252"/><rect x="774.17" y="617.20" width="5.7" height="2.30" fill="#ffcdd2"/><rect x="781.61" y="615.00" width="5.7" height="2.20" fill="#26a69a"/><rect x="789.05" y="613.50" width="5.7" height="3.70" fill="#26a69a"/><rect x="796.49" y="612.20" width="5.7" height="5.00" fill="#26a69a"/><rect x="803.93" y="612.20" width="5.7" height="5.00" fill="#b2dfdb"/><rect x="811.37" y="615.00" width="5.7" height="2.20" fill="#b2dfdb"/><rect x="818.81" y="615.30" width="5.7" height="1.90" fill="#b2dfdb"/><rect x="826.25" y="613.50" width="5.7" height="3.70" fill="#26a69a"/><rect x="833.70" y="609.80" width="5.7" height="7.40" fill="#26a69a"/><rect x="841.14" y="608.50" width="5.7" height="8.70" fill="#26a69a"/><rect x="848.58" y="607.20" width="5.7" height="10.00" fill="#26a69a"/><rect x="856.02" y="603.80" width="5.7" height="13.40" fill="#26a69a"/><rect x="863.46" y="603.40" width="5.7" height="13.80" fill="#26a69a"/><rect x="870.90" y="601.90" width="5.7" height="15.30" fill="#26a69a"/><rect x="878.34" y="601.00" width="5.7" height="16.20" fill="#26a69a"/><rect x="885.78" y="603.80" width="5.7" height="13.40" fill="#b2dfdb"/><rect x="893.22" y="604.70" width="5.7" height="12.50" fill="#b2dfdb"/><rect x="900.66" y="609.00" width="5.7" height="8.20" fill="#b2dfdb"/><rect x="908.11" y="612.20" width="5.7" height="5.00" fill="#b2dfdb"/><rect x="915.55" y="617.20" width="5.7" height="3.10" fill="#ff5252"/><rect x="922.99" y="617.20" width="5.7" height="8.20" fill="#ff5252"/><rect x="930.43" y="617.20" width="5.7" height="11.90" fill="#ff5252"/><rect x="937.87" y="617.20" width="5.7" height="6.30" fill="#ffcdd2"/><rect x="945.31" y="617.20" width="5.7" height="5.20" fill="#ffcdd2"/><rect x="952.75" y="617.20" width="5.7" height="5.10" fill="#ffcdd2"/><rect x="960.19" y="617.20" width="5.7" height="4.10" fill="#ffcdd2"/><rect x="967.63" y="617.20" width="5.7" height="2.80" fill="#ffcdd2"/><rect x="975.07" y="617.20" width="5.7" height="4.10" fill="#ff5252"/><rect x="982.52" y="617.20" width="5.7" height="6.10" fill="#ff5252"/><rect x="989.96" y="617.20" width="5.7" height="4.30" fill="#ffcdd2"/><rect x="997.40" y="617.20" width="5.7" height="2.30" fill="#ffcdd2"/><rect x="1004.84" y="617.20" width="5.7" height="1.80" fill="#ffcdd2"/><rect x="1012.28" y="615.50" width="5.7" height="1.70" fill="#b2dfdb"/><rect x="1019.72" y="617.20" width="5.7" height="3.00" fill="#ff5252"/><rect x="1027.16" y="617.20" width="5.7" height="1.30" fill="#ffcdd2"/><rect x="1034.60" y="617.20" width="5.7" height="1.30" fill="#ffcdd2"/><rect x="1042.04" y="606.00" width="5.7" height="11.20" fill="#26a69a"/><rect x="1049.49" y="605.00" width="5.7" height="12.20" fill="#26a69a"/><rect x="1056.93" y="602.00" width="5.7" height="15.20" fill="#26a69a"/><rect x="1064.37" y="603.40" width="5.7" height="13.80" fill="#b2dfdb"/><rect x="1071.81" y="604.60" width="5.7" height="12.60" fill="#b2dfdb"/><rect x="1079.25" y="602.00" width="5.7" height="15.20" fill="#26a69a"/><rect x="1086.69" y="587.10" width="5.7" height="30.10" fill="#26a69a"/><rect x="1094.13" y="587.10" width="5.7" height="30.10" fill="#26a69a"/><rect x="1101.57" y="589.20" width="5.7" height="28.00" fill="#b2dfdb"/><rect x="1109.01" y="593.20" width="5.7" height="24.00" fill="#b2dfdb"/><rect x="1116.45" y="594.40" width="5.7" height="22.80" fill="#b2dfdb"/><rect x="1123.89" y="594.40" width="5.7" height="22.80" fill="#26a69a"/><rect x="1131.34" y="597.30" width="5.7" height="19.90" fill="#b2dfdb"/><rect x="1138.78" y="595.90" width="5.7" height="21.30" fill="#26a69a"/><rect x="1146.22" y="597.30" width="5.7" height="19.90" fill="#b2dfdb"/><rect x="1153.66" y="598.50" width="5.7" height="18.70" fill="#b2dfdb"/><rect x="1161.10" y="603.40" width="5.7" height="13.80" fill="#b2dfdb"/><rect x="1168.54" y="605.00" width="5.7" height="12.20" fill="#b2dfdb"/><rect x="1175.98" y="609.10" width="5.7" height="8.10" fill="#b2dfdb"/><path d="M23.0,607.5 C28.8,608.2 47.6,610.2 57.5,611.9 C67.4,613.6 74.2,615.4 82.5,617.5 C90.8,619.6 99.2,622.0 107.5,624.4 C115.8,626.8 124.2,629.9 132.5,631.9 C140.8,633.9 151.9,635.5 157.5,636.3 C163.1,637.1 162.0,637.5 166.3,636.9 C170.6,636.3 176.9,634.0 183.2,632.8 C189.5,631.6 195.1,629.9 203.9,629.7 C212.7,629.6 228.1,631.6 235.8,631.9 C243.5,632.2 241.4,632.9 250.0,631.6 C258.6,630.3 276.9,626.3 287.5,624.1 C298.1,621.9 301.3,619.6 313.8,618.5 C326.3,617.4 348.2,618.9 362.6,617.5 C377.0,616.1 390.6,611.3 400.0,610.4 C409.4,609.5 412.6,610.8 418.9,612.3 C425.2,613.8 431.4,616.3 437.6,619.4 C443.9,622.5 449.3,627.1 456.4,630.7 C463.5,634.3 471.4,637.7 480.0,641.0 C488.6,644.3 499.4,647.8 508.1,650.4 C516.9,653.0 524.7,656.0 532.5,656.5 C540.3,657.0 546.5,655.2 555.0,653.2 C563.5,651.2 573.8,647.7 583.2,644.7 C592.6,641.7 601.9,638.0 611.3,635.3 C620.7,632.6 628.5,631.4 639.5,628.4 C650.5,625.4 665.2,621.5 677.0,617.5 C688.8,613.5 702.0,608.2 710.0,604.7 C718.0,601.2 718.8,598.2 725.0,596.3 C731.2,594.4 739.0,593.7 747.5,593.5 C756.0,593.3 767.0,595.5 775.7,595.3 C784.5,595.1 792.2,593.3 800.0,592.5 C807.8,591.7 814.1,592.2 822.6,590.7 C831.1,589.2 841.3,586.8 850.7,583.5 C860.1,580.2 871.1,574.4 878.9,571.0 C886.7,567.6 891.7,564.6 897.6,562.9 C903.5,561.2 908.2,560.0 914.5,560.6 C920.8,561.2 929.2,564.9 935.1,566.3 C941.0,567.7 941.4,567.9 950.0,569.1 C958.6,570.3 974.8,572.5 986.7,573.5 C998.6,574.5 1012.8,574.8 1021.3,575.0 C1029.8,575.2 1031.1,576.8 1037.5,575.0 C1043.9,573.2 1054.4,567.0 1059.8,564.4 C1065.2,561.8 1066.3,560.9 1070.0,559.4 C1073.7,557.9 1077.2,559.0 1082.2,555.2 C1087.2,551.5 1094.1,542.5 1100.0,536.9 C1105.9,531.3 1111.7,526.3 1117.5,521.9 C1123.3,517.5 1128.8,514.8 1135.0,510.6 C1141.2,506.4 1150.0,499.5 1155.0,496.5 C1160.0,493.5 1161.2,494.1 1165.0,492.8 C1168.8,491.5 1175.9,489.2 1178.1,488.5" fill="none" stroke="#ff9c57" stroke-width="1.9" stroke-linejoin="round"/><path d="M23.0,610.3 C28.8,611.1 48.4,613.2 57.5,615.0 C66.6,616.8 72.9,619.7 77.5,621.3 C82.1,622.9 81.7,622.5 85.0,624.4 C88.3,626.3 93.8,630.9 97.5,632.5 C101.2,634.1 101.7,632.3 107.5,633.8 C113.3,635.3 125.2,640.5 132.5,641.4 C139.8,642.2 146.9,639.1 151.3,638.9 C155.7,638.7 154.7,641.8 158.8,640.3 C162.9,638.8 170.7,632.7 175.7,630.0 C180.7,627.3 183.9,624.6 188.9,624.0 C193.9,623.4 199.4,624.4 205.7,626.3 C211.9,628.2 221.1,634.1 226.4,635.3 C231.7,636.5 233.7,634.2 237.6,633.4 C241.5,632.6 241.7,632.5 250.0,630.3 C258.3,628.1 277.2,623.1 287.5,620.3 C297.8,617.5 305.6,614.2 311.9,613.4 C318.1,612.6 321.2,614.9 325.0,615.6 C328.8,616.3 330.0,617.3 334.4,617.5 C338.8,617.7 343.5,618.5 351.3,616.6 C359.1,614.7 374.4,607.5 381.3,605.9 C388.2,604.3 387.9,606.2 392.6,607.2 C397.3,608.2 403.6,609.4 409.5,611.9 C415.4,614.4 422.9,618.6 428.2,622.2 C433.5,625.8 436.7,629.1 441.4,633.5 C446.1,637.9 451.4,645.3 456.4,648.5 C461.4,651.7 465.3,651.8 471.4,652.8 C477.5,653.8 487.3,653.9 493.1,654.7 C498.9,655.6 502.2,656.4 506.3,657.9 C510.4,659.4 514.4,663.1 517.5,664.0 C520.6,664.9 521.9,664.4 525.0,663.5 C528.1,662.6 532.8,660.7 536.3,658.8 C539.8,656.9 542.0,653.9 545.7,652.2 C549.5,650.5 554.1,650.7 558.8,648.5 C563.5,646.3 568.8,641.3 573.8,639.1 C578.8,636.9 583.2,637.5 588.8,635.3 C594.4,633.1 601.4,628.2 607.6,626.0 C613.9,623.8 621.6,622.5 626.3,622.2 C631.0,621.9 630.4,624.9 635.7,624.1 C641.0,623.3 651.3,620.2 658.2,617.5 C665.1,614.8 669.8,612.3 677.0,608.1 C684.2,603.9 694.3,595.7 701.4,592.2 C708.5,588.7 714.2,587.2 719.4,586.9 C724.6,586.6 726.9,589.4 732.5,590.3 C738.1,591.2 748.2,591.5 753.2,592.5 C758.2,593.5 758.8,595.5 762.5,596.3 C766.2,597.1 772.0,597.8 775.7,597.2 C779.5,596.6 780.3,594.3 785.0,592.9 C789.7,591.5 798.2,589.2 803.8,588.8 C809.4,588.4 814.1,590.8 818.8,590.3 C823.5,589.8 826.4,588.6 832.0,586.0 C837.6,583.4 844.8,579.8 852.6,574.7 C860.4,569.6 871.4,559.0 878.9,555.4 C886.4,551.8 892.3,552.5 897.6,552.8 C902.9,553.0 907.0,554.5 910.8,556.9 C914.5,559.3 916.4,563.9 920.1,567.2 C923.9,570.5 929.8,575.5 933.3,576.6 C936.8,577.7 936.3,574.2 940.8,573.8 C945.3,573.4 955.3,574.2 960.3,574.1 C965.2,574.0 966.4,572.1 970.5,572.9 C974.6,573.6 980.7,578.0 984.7,578.6 C988.8,579.2 990.1,577.1 994.8,576.2 C999.5,575.4 1008.7,573.5 1013.1,573.5 C1017.5,573.5 1017.2,576.0 1021.3,576.2 C1025.4,576.5 1033.5,577.8 1037.5,575.0 C1041.5,572.2 1041.5,563.4 1045.0,559.4 C1048.5,555.4 1054.0,553.1 1058.8,551.0 C1063.6,548.9 1070.0,548.3 1073.8,546.5 C1077.5,544.7 1078.9,544.8 1081.3,540.0 C1083.7,535.2 1085.5,522.9 1088.0,518.0 C1090.5,513.1 1092.4,513.0 1096.3,510.6 C1100.2,508.2 1107.5,505.6 1111.3,503.8 C1115.0,502.0 1116.3,501.7 1118.8,500.0 C1121.3,498.3 1123.8,494.9 1126.3,493.5 C1128.8,492.1 1131.3,493.1 1133.8,491.9 C1136.3,490.6 1137.8,488.2 1141.3,486.0 C1144.8,483.8 1151.4,479.4 1155.0,478.5 C1158.6,477.6 1160.4,480.2 1163.1,480.3 C1165.8,480.4 1168.8,479.0 1171.3,478.8 C1173.8,478.6 1177.0,479.3 1178.1,479.4" fill="none" stroke="#6390ff" stroke-width="1.9" stroke-linejoin="round"/></g><path d="M-5,2 H5.6 A10.1,10.1 0 0 1 5.6,22.2 H-5 Z" fill="#f23645"/><path d="M6.6,6.6 H8.7 V16.2 H6.6 V9.4 L4.6,10.6 V8.6 Z M-1.4,6.6 H0.9 V16.2 H-1.4 Z" fill="#ffffff"/><path d="M0,24.5 L2.3,25.5 L1,31.5 L0,31.5 Z" fill="#3f5bb8"/><circle cx="40.9" cy="22.2" r="6.9" fill="none" stroke="#272b36" stroke-width="2"/><line x1="45.9" y1="27.3" x2="50.6" y2="32" stroke="#272b36" stroke-width="2.2" stroke-linecap="round"/><text x="58.5" y="30.4" font-size="17.5" font-weight="700" fill="#272b36" text-anchor="start" textLength="67.8" lengthAdjust="spacingAndGlyphs" >ETHUSD</text><circle cx="169.9" cy="24.1" r="11.1" fill="none" stroke="#272b36" stroke-width="1.5"/><path d="M164,24.1 H175.8 M169.9,18.3 V30" stroke="#272b36" stroke-width="1.5"/><line x1="200.8" y1="9.7" x2="200.8" y2="37.8" stroke="#e6e7ea" stroke-width="1.2"/><line x1="262.6" y1="9.7" x2="262.6" y2="37.8" stroke="#e6e7ea" stroke-width="1.2"/><line x1="322.8" y1="9.7" x2="322.8" y2="37.8" stroke="#e6e7ea" stroke-width="1.2"/><line x1="523.3" y1="9.7" x2="523.3" y2="37.8" stroke="#e6e7ea" stroke-width="1.2"/><line x1="747.8" y1="9.7" x2="747.8" y2="37.8" stroke="#e6e7ea" stroke-width="1.2"/><text x="219.3" y="30.4" font-size="17.5" font-weight="400" fill="#272b36" text-anchor="start" textLength="24.5" lengthAdjust="spacingAndGlyphs" >5m</text><g fill="none" stroke="#272b36" stroke-width="1.5"><rect x="285.3" y="14.5" width="5.7" height="18" rx="1"/><path d="M288.2,10.6 V14.5 M288.2,32.5 V36.4"/><rect x="295.3" y="18.3" width="6.2" height="9.9" rx="1"/><path d="M298.4,14.5 V18.3 M298.4,28.2 V32.5"/></g><g fill="none" stroke="#272b36" stroke-width="1.6" stroke-linejoin="round"><path d="M342.9,20.9 L349.5,14 L355,18.3 L364.5,11.9"/><path d="M343.2,34.4 V28.6 H349.3 V25.2 H355.2 V28.6 H359.4 V21.3 H364.3 V34.4 Z M349.3,28.6 V34.4 M355.2,28.6 V34.4 M359.4,28.6 V34.4"/></g><text x="375.5" y="30.4" font-size="17.5" font-weight="400" fill="#272b36" text-anchor="start" textLength="80.5" lengthAdjust="spacingAndGlyphs" >Indicators</text><g fill="none" stroke="#272b36" stroke-width="1.6"><rect x="483.4" y="13.8" width="8" height="7.8" rx="2.6"/><rect x="494.7" y="13.8" width="8" height="7.8" rx="2.6"/><rect x="483.4" y="25.4" width="8" height="8.3" rx="2.6"/><rect x="494.7" y="25.4" width="8" height="8.3" rx="2.6"/></g><g fill="none" stroke="#272b36" stroke-width="1.6" stroke-linecap="round"><path d="M563.2,24.3 A10.5,10.5 0 1 0 552.5,34.9"/><path d="M552.7,17 V24.2 H548.6"/><path d="M541,17.2 L545,12.2 M560.2,12.2 L564.4,16.8"/><path d="M555,32 H565.8 M560.3,26.5 V37.4"/></g><text x="576" y="30.4" font-size="17.5" font-weight="400" fill="#272b36" text-anchor="start" textLength="39" lengthAdjust="spacingAndGlyphs" >Alert</text><g fill="none" stroke="#272b36" stroke-width="1.6" stroke-linejoin="round"><path d="M652.7,17.1 L645.4,24.1 L652.7,31.2 Z"/><path d="M663.6,17.1 L656.3,24.1 L663.6,31.2 Z"/></g><text x="676.7" y="30.4" font-size="17.5" font-weight="400" fill="#272b36" text-anchor="start" textLength="52" lengthAdjust="spacingAndGlyphs" >Replay</text><g fill="none" stroke="#272b36" stroke-width="1.6" stroke-linecap="round" stroke-linejoin="round"><path d="M773.6,17.3 L769.5,21.8 L773.6,26.1"/><path d="M770,21.8 H777.5 Q785,21.8 785,30"/></g><g fill="none" stroke="#b2b5be" stroke-width="1.6" stroke-linecap="round" stroke-linejoin="round"><path d="M830,17.3 L834.1,21.8 L830,26.1"/><path d="M833.6,21.8 H826 Q818.4,21.8 818.4,30"/></g><rect x="1235" y="14.3" width="22.5" height="20.3" rx="3" fill="none" stroke="#272b36" stroke-width="2"/><rect x="1277.6" y="10" width="8" height="13.3" rx="2" fill="#2f4596"/><path d="M1277.6,12 V21.5" stroke="#f0b080" stroke-width="0.8"/><rect x="-6" y="62.5" width="12" height="44.5" rx="6" fill="#ececec"/><rect x="-8" y="626.7" width="14.5" height="50" rx="6" fill="#1e1f24"/><line x1="0" y1="573.8" x2="8" y2="573.8" stroke="#e8e8e8" stroke-width="1"/><line x1="0" y1="458.8" x2="8" y2="458.8" stroke="#e8e8e8" stroke-width="1"/><circle cx="0" cy="177.8" r="1.8" fill="#444"/><circle cx="0" cy="237.8" r="1" fill="#aaa"/><path d="M-1,318.8 L2,318.8 L0,321.5 Z" fill="#555"/><circle cx="46.1" cy="73.6" r="11.7" fill="#44549a"/><path d="M46.1,66.8 L50.6,74 L46.1,81.2 L41.6,74 Z" fill="#d2dcf8"/><path d="M46.1,66.8 L50.6,74 L46.1,81.2 Z" fill="#a8bcf0"/><text x="62.7" y="81.4" font-size="19.8" font-weight="400" fill="#2a2d36" text-anchor="start" textLength="89.1" lengthAdjust="spacingAndGlyphs" >Ethereum</text><text x="175.3" y="81.4" font-size="19.8" font-weight="400" fill="#2a2d36" text-anchor="start" textLength="36.9" lengthAdjust="spacingAndGlyphs" >U.S.</text><text x="219.4" y="81.4" font-size="19.8" font-weight="400" fill="#2a2d36" text-anchor="start" textLength="54.7" lengthAdjust="spacingAndGlyphs" >Dollar</text><text x="316.0" y="81.4" font-size="19.8" font-weight="400" fill="#2a2d36" text-anchor="start" textLength="79.1" lengthAdjust="spacingAndGlyphs" >BINANCE</text><line x1="161.1" y1="81.2" x2="165.9" y2="66.8" stroke="#2a2d36" stroke-width="1.75"/><text x="290" y="81.4" font-size="19.8" font-weight="400" fill="#2a2d36" text-anchor="start" >5</text><circle cx="281.7" cy="74.6" r="1.5" fill="#2a2d36"/><circle cx="307.8" cy="74.6" r="1.5" fill="#2a2d36"/><rect x="413.6" y="62.5" width="51.2" height="22.5" rx="11.25" fill="#ddf0ee"/><path d="M439.2,62.5 H453.5 A11.25,11.25 0 0 1 453.5,85 H439.2 Z" fill="#f3e2f6"/><circle cx="427.4" cy="73.8" r="5.3" fill="#089981"/><g stroke="#a044c4" stroke-width="1.5" fill="#a044c4"><path d="M453.6,68 L444.2,73.8 L453.4,79.5 Z" fill="none"/><circle cx="453.6" cy="68" r="2.7" stroke="none"/><circle cx="444.2" cy="73.8" r="2.7" stroke="none"/><circle cx="453.4" cy="79.5" r="2.7" stroke="none"/></g><text x="486" y="80.5" font-size="16.5" font-weight="400" fill="#4a4e59" text-anchor="start" textLength="11" lengthAdjust="spacingAndGlyphs" >O</text><text x="498" y="80.5" font-size="16.5" font-weight="400" fill="#f0424f" text-anchor="start" textLength="63.6" lengthAdjust="spacingAndGlyphs" >4,950.01</text><text x="571.3" y="80.5" font-size="16.5" font-weight="400" fill="#4a4e59" text-anchor="start" textLength="10.3" lengthAdjust="spacingAndGlyphs" >H</text><text x="583.5" y="80.5" font-size="16.5" font-weight="400" fill="#f0424f" text-anchor="start" textLength="63" lengthAdjust="spacingAndGlyphs" >4,950.01</text><text x="655.7" y="80.5" font-size="16.5" font-weight="400" fill="#4a4e59" text-anchor="start" textLength="8.5" lengthAdjust="spacingAndGlyphs" >L</text><text x="665.1" y="80.5" font-size="16.5" font-weight="400" fill="#f0424f" text-anchor="start" textLength="63.9" lengthAdjust="spacingAndGlyphs" >4,949.13</text><text x="738.5" y="80.5" font-size="16.5" font-weight="400" fill="#4a4e59" text-anchor="start" textLength="10" lengthAdjust="spacingAndGlyphs" >C</text><text x="748.4" y="80.5" font-size="16.5" font-weight="400" fill="#f0424f" text-anchor="start" textLength="64.2" lengthAdjust="spacingAndGlyphs" >4,949.13</text><text x="822.9" y="80.5" font-size="16.5" font-weight="400" fill="#f0424f" text-anchor="start" textLength="38.5" lengthAdjust="spacingAndGlyphs" >−0.94</text><text x="868.9" y="80.5" font-size="16.5" font-weight="400" fill="#f0424f" text-anchor="start" textLength="61" lengthAdjust="spacingAndGlyphs" >(−0.02%)</text><rect x="33.5" y="94.3" width="93.2" height="43.4" rx="6" fill="#ffffff" stroke="#f47c85" stroke-width="1.5"/><rect x="172.8" y="94.3" width="92.2" height="43.4" rx="6" fill="#ffffff" stroke="#5b86f5" stroke-width="1.5"/><text x="47.6" y="112.3" font-size="14.5" font-weight="400" fill="#f0424f" text-anchor="start" textLength="66.3" lengthAdjust="spacingAndGlyphs" stroke="#f0424f" stroke-width="0.4">4,949.13</text><text x="64.4" y="130.2" font-size="14" font-weight="400" fill="#f23645" text-anchor="start" textLength="31.5" lengthAdjust="spacingAndGlyphs" >SELL</text><text x="136.8" y="120" font-size="12.5" font-weight="400" fill="#3a3e48" text-anchor="start" textLength="27" lengthAdjust="spacingAndGlyphs" >0.00</text><text x="186.9" y="112.3" font-size="14.5" font-weight="400" fill="#2962ff" text-anchor="start" textLength="66.5" lengthAdjust="spacingAndGlyphs" stroke="#2962ff" stroke-width="0.4">4,949.13</text><text x="205.5" y="130.2" font-size="14" font-weight="400" fill="#2962ff" text-anchor="start" textLength="26.8" lengthAdjust="spacingAndGlyphs" >BUY</text><text x="34.8" y="164.8" font-size="16.5" font-weight="400" fill="#30343e" text-anchor="start" textLength="219.5" lengthAdjust="spacingAndGlyphs" >CA_-_RSI_Bol_Strat_1.1 6 200</text><circle cx="275.9" cy="158.3" r="11.9" fill="#dfe6fd"/><g fill="#3f6ef6"><path d="M272.5,150.2 Q273,155 276.6,155.9 Q273.2,156.6 272.5,158.6 Q271.8,156.6 268.4,155.9 Q272,155 272.5,150.2 Z"/><path d="M279.4,158 Q280.1,160 283.6,160.8 Q280.1,161.7 279.4,166.4 Q278.7,161.7 275.2,160.8 Q278.7,160 279.4,158 Z"/></g><text x="297.7" y="164.8" font-size="16.5" font-weight="700" fill="#1ee7f7" text-anchor="start" textLength="64.6" lengthAdjust="spacingAndGlyphs" >4,789.28</text><text x="370.9" y="164.8" font-size="16.5" font-weight="400" fill="#c2c3c6" text-anchor="start" textLength="64" lengthAdjust="spacingAndGlyphs" stroke="#c2c3c6" stroke-width="0.35">4,876.11</text><text x="443" y="164.8" font-size="16.5" font-weight="400" fill="#c2c3c6" text-anchor="start" textLength="64" lengthAdjust="spacingAndGlyphs" stroke="#c2c3c6" stroke-width="0.35">4,702.45</text><rect x="33.9" y="178.4" width="35.9" height="25.3" rx="4" fill="#ffffff" stroke="#e3e3e3" stroke-width="1"/><path d="M47.6,193.9 L51.9,189.6 L56.2,193.9" fill="none" stroke="#272b36" stroke-width="2"/><circle cx="1179.5" cy="455.3" r="12.5" fill="#ffffff"/><g fill="none" stroke="#a04cc6" stroke-width="2.3" stroke-linecap="round"><path d="M1183.3,443.3 A12.4,12.4 0 0 0 1167.6,451.2"/><path d="M1191.5,451.8 A12.4,12.4 0 0 1 1170.2,463.6"/></g><circle cx="1188" cy="446.5" r="3.4" fill="#f23645"/><path d="M1182.6,448.6 L1174.6,456.8 L1179.2,456.6 L1175.4,463 L1184.6,454.2 L1180,454.4 L1183.6,448.6 Z" fill="#a04cc6"/><path d="M1165.6,453.6 Q1166.6,458.6 1171.8,459.9 Q1166.6,461.2 1165.6,466.2 Q1164.6,461.2 1159.4,459.9 Q1164.6,458.6 1165.6,453.6 Z" fill="#6a4cf2"/><text x="35" y="500" font-size="16" font-weight="400" fill="#363a45" text-anchor="start" textLength="128" lengthAdjust="spacingAndGlyphs" >MACD 12 26 close</text><text x="175" y="500" font-size="16" font-weight="400" fill="#b2dfdb" text-anchor="start" textLength="31" lengthAdjust="spacingAndGlyphs" >1.97</text><text x="214.5" y="500" font-size="16" font-weight="400" fill="#5b86ff" text-anchor="start" textLength="39.3" lengthAdjust="spacingAndGlyphs" >30.51</text><text x="263" y="500" font-size="16" font-weight="400" fill="#ff7f33" text-anchor="start" textLength="40.7" lengthAdjust="spacingAndGlyphs" >28.54</text><g fill="#131313"><path d="M38.6,644.8 H53.4 V664.3 H46 V652.2 H38.6 Z"/><circle cx="60.5" cy="648.7" r="3.9"/><path d="M66.2,644.8 H76.6 L70.4,664.3 H60.9 Z"/></g><text x="85.9" y="664.2" font-size="26.8" font-weight="700" fill="#131313" text-anchor="start" textLength="155.5" lengthAdjust="spacingAndGlyphs" >TradingView</text><text x="46.8" y="705.6" font-size="16" font-weight="700" fill="#4a4d55" text-anchor="middle" textLength="43" lengthAdjust="spacingAndGlyphs">06:00</text><text x="136.1" y="705.6" font-size="16" font-weight="700" fill="#4a4d55" text-anchor="middle" textLength="43" lengthAdjust="spacingAndGlyphs">07:00</text><text x="225.4" y="705.6" font-size="16" font-weight="700" fill="#4a4d55" text-anchor="middle" textLength="43" lengthAdjust="spacingAndGlyphs">08:00</text><text x="314.7" y="705.6" font-size="16" font-weight="700" fill="#4a4d55" text-anchor="middle" textLength="43" lengthAdjust="spacingAndGlyphs">09:00</text><text x="404.0" y="705.6" font-size="16" font-weight="700" fill="#4a4d55" text-anchor="middle" textLength="43" lengthAdjust="spacingAndGlyphs">10:00</text><text x="493.3" y="705.6" font-size="16" font-weight="700" fill="#4a4d55" text-anchor="middle" textLength="43" lengthAdjust="spacingAndGlyphs">11:00</text><text x="582.5" y="705.6" font-size="16" font-weight="700" fill="#4a4d55" text-anchor="middle" textLength="43" lengthAdjust="spacingAndGlyphs">12:00</text><text x="671.8" y="705.6" font-size="16" font-weight="700" fill="#4a4d55" text-anchor="middle" textLength="43" lengthAdjust="spacingAndGlyphs">13:00</text><text x="761.1" y="705.6" font-size="16" font-weight="700" fill="#4a4d55" text-anchor="middle" textLength="43" lengthAdjust="spacingAndGlyphs">14:00</text><text x="850.4" y="705.6" font-size="16" font-weight="700" fill="#4a4d55" text-anchor="middle" textLength="43" lengthAdjust="spacingAndGlyphs">15:00</text><text x="939.7" y="705.6" font-size="16" font-weight="700" fill="#4a4d55" text-anchor="middle" textLength="43" lengthAdjust="spacingAndGlyphs">16:00</text><text x="1029.0" y="705.6" font-size="16" font-weight="700" fill="#4a4d55" text-anchor="middle" textLength="43" lengthAdjust="spacingAndGlyphs">17:00</text><text x="1118.3" y="705.6" font-size="16" font-weight="700" fill="#4a4d55" text-anchor="middle" textLength="43" lengthAdjust="spacingAndGlyphs">18:00</text><text x="1207.6" y="705.6" font-size="16" font-weight="700" fill="#4a4d55" text-anchor="middle" textLength="43" lengthAdjust="spacingAndGlyphs">19:00</text><defs><filter id="ds" x="-20%" y="-20%" width="140%" height="150%"><feDropShadow dx="0.4" dy="1" stdDeviation="0.9" flood-color="#000000" flood-opacity="0.42"/></filter></defs><g filter="url(#ds)"><g fill="none" stroke="#ffffff" stroke-width="3.6" stroke-linejoin="miter"><path d="M1034.5,689.5 L1042,682 L1049.5,689.5"/><path d="M1034.5,697.5 L1042,705 L1049.5,697.5"/><path d="M1042,688.5 L1047,693.5 L1042,698.5 L1037,693.5 Z"/></g><path d="M1053,690 L1056.5,693.5 L1053,697 L1049.5,693.5 Z" fill="#ffffff"/><path d="M1031,690 L1034.5,693.5 L1031,697 L1027.5,693.5 Z" fill="#ffffff"/><text x="1061.5" y="700" font-size="24" fill="#ffffff" textLength="19.5" lengthAdjust="spacingAndGlyphs">@</text><text x="1086" y="700" font-size="23.5" fill="#ffffff" textLength="186" lengthAdjust="spacingAndGlyphs">Quantum X Labs</text></g></svg>
</body></html>
